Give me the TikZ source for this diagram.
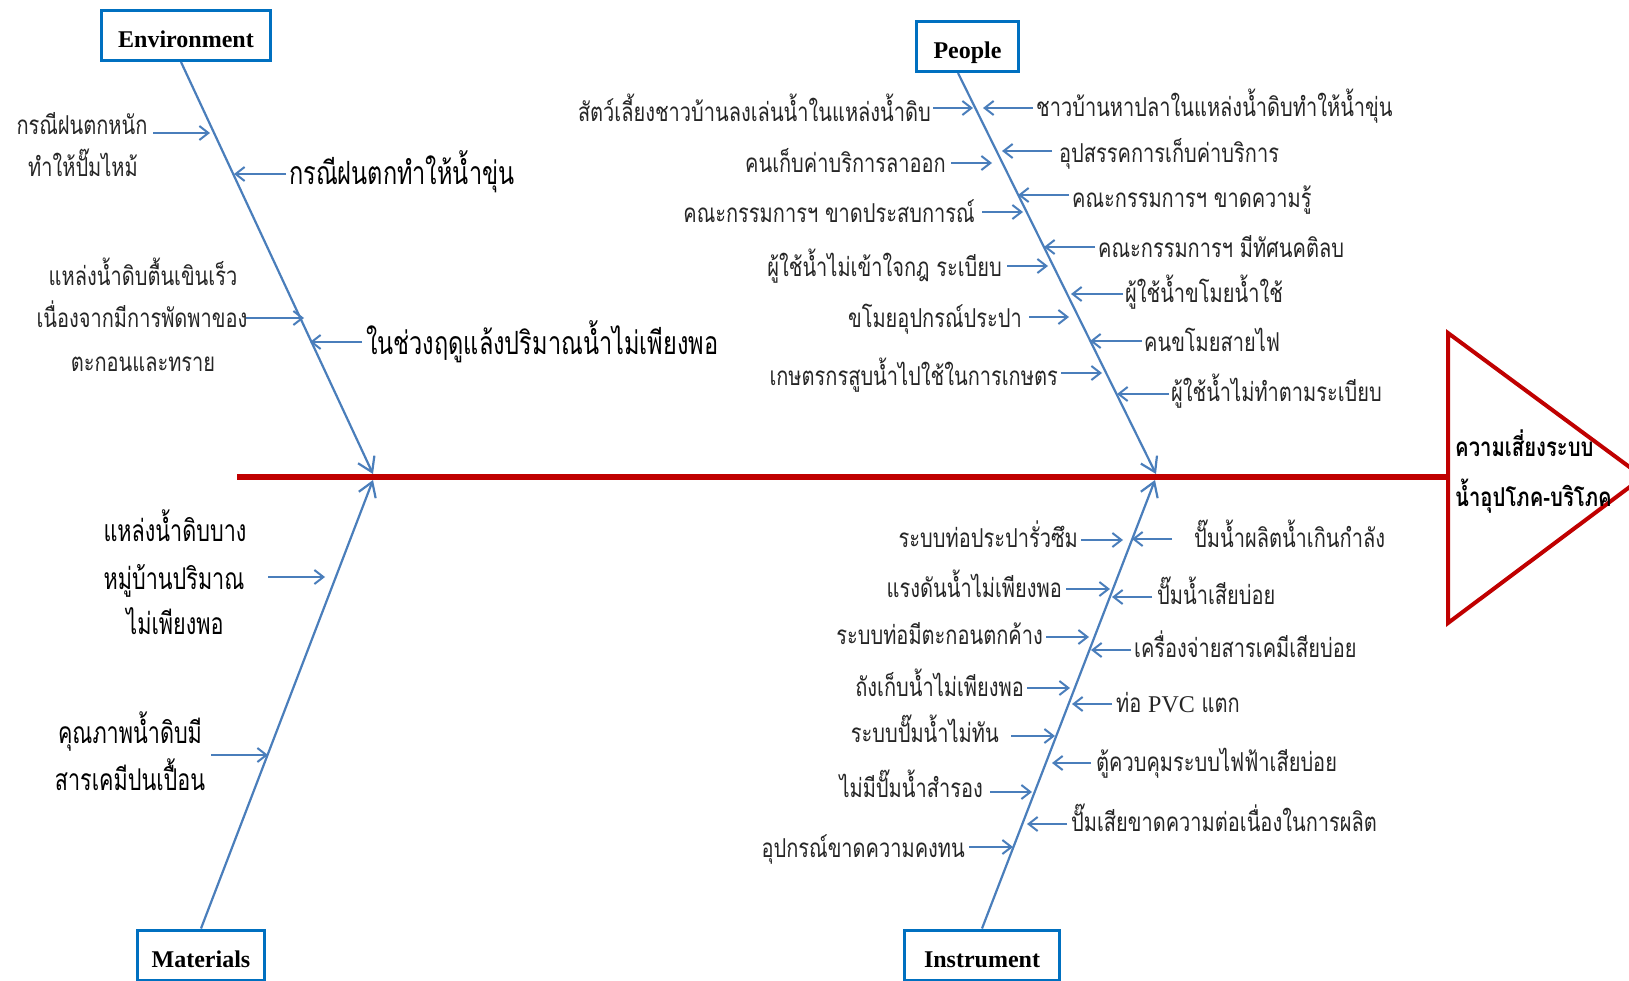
\documentclass[tikz,border=0pt]{standalone}
\usepackage{fontspec}
\setmainfont{Liberation Serif}
\newfontfamily\thai[Script=Thai,FakeStretch=0.77]{Loma}
\newfontfamily\thailg[Script=Thai,FakeStretch=0.735]{Loma}
\newfontfamily\thaimat[Script=Thai,FakeStretch=0.72]{Loma}
\newfontfamily\thaihd[Script=Thai,FakeStretch=0.78]{Loma}
\usetikzlibrary{arrows.meta}
\definecolor{boxblue}{HTML}{0070C0}
\definecolor{lineblue}{HTML}{4A7EBB}
\definecolor{spinered}{HTML}{C00000}
\definecolor{labgray}{HTML}{262626}
\tikzset{
  catbox/.style={draw=boxblue, line width=3pt, fill=white, font=\bfseries\fontsize{24}{28}\selectfont, inner sep=0pt, text height=25pt, text depth=0pt},
  bone/.style={draw=lineblue, line width=2.2pt, -{Straight Barb[length=14pt,width=18pt]}},
  sub/.style={draw=lineblue, line width=2pt, -{Straight Barb[length=9pt,width=14pt]}},
  sm/.style={font=\thai\fontsize{26}{30}\selectfont, text=labgray, inner sep=0pt, text height=19pt, text depth=0pt},
  lg/.style={font=\thailg\fontsize{32}{36}\selectfont, text=black, inner sep=0pt, text height=24pt, text depth=0pt},
  mt/.style={font=\thaimat\fontsize{30}{34}\selectfont, text=black, inner sep=0pt, text height=18pt, text depth=0pt},
  hd/.style={font=\thaihd\bfseries\fontsize{26}{30}\selectfont, text=black, inner sep=0pt, text height=13pt, text depth=0pt, anchor=west},
}
\begin{document}
\begin{tikzpicture}[x=1pt,y=-1pt]
\useasboundingbox (0,0) rectangle (1629,981);
\fill[white] (0,0) rectangle (1629,981);
\clip (0,0) rectangle (1629,981);

% main spine and head
\coordinate (spL) at (237,477);
\coordinate (triT) at (1448,333);
\coordinate (triB) at (1448,623);
\coordinate (triA) at (1643,477);
\draw[spinered, line width=5.5pt] (spL) -- (triT |- spL);
\draw[spinered, line width=4pt, line join=miter] (triT) -- (triA) -- (triB) -- cycle;
\node[hd] (head1) at (1455,450) {ความเสี่ยงระบบ};
\node[hd] (head2) at (1455,500) {น้ำอุปโภค-บริโภค};

% category boxes
\node[catbox, minimum width=169pt, minimum height=50pt] (env) at (186,35.5) {Environment};
\node[catbox, minimum width=102pt, minimum height=50pt] (ppl) at (967.5,46.5) {People};
\node[catbox, minimum width=127pt, minimum height=50pt] (mat) at (201,955) {Materials};
\node[catbox, minimum width=155pt, minimum height=50pt] (ins) at (982,955) {Instrument};

% bones
\coordinate (envtip) at (373,474);
\coordinate (mattip) at (373,480);
\coordinate (ppltip) at (1156,474);
\coordinate (instip) at (1155,480);
\draw[bone] ([xshift=-5pt]env.south) -- (envtip);
\draw[bone] (mat.north) -- (mattip);
\draw[bone] ([xshift=-9.5pt]ppl.south) -- (ppltip);
\draw[bone] (ins.north) -- (instip);

% ---- Environment causes
\node[sm] (e1a) at (82,125) {กรณีฝนตกหนัก};
\node[sm] (e1b) at (83,167) {ทำให้ปั๊มไหม้};
\coordinate (e1s) at (153,133); \coordinate (e1t) at (210,133);
\draw[sub] (e1s) -- (e1t);
\node[lg, anchor=west] (e2) at (289,173) {กรณีฝนตกทำให้น้ำขุ่น};
\coordinate (e2s) at (286,174); \coordinate (e2t) at (234,174);
\draw[sub] (e2s) -- (e2t);
\node[sm] (e3a) at (143,276) {แหล่งน้ำดิบตื้นเขินเร็ว};
\node[sm] (e3b) at (142,318) {เนื่องจากมีการพัดพาของ};
\node[sm] (e3c) at (143,362) {ตะกอนและทราย};
\coordinate (e3s) at (246,318); \coordinate (e3t) at (304,318);
\draw[sub] (e3s) -- (e3t);
\node[lg, anchor=west] (e4) at (366,342) {ในช่วงฤดูแล้งปริมาณน้ำไม่เพียงพอ};
\coordinate (e4s) at (362,342); \coordinate (e4t) at (310,342);
\draw[sub] (e4s) -- (e4t);

% ---- Materials causes
\node[mt] (m1a) at (175,532) {แหล่งน้ำดิบบาง};
\node[mt] (m1b) at (174,580) {หมู่บ้านปริมาณ};
\node[mt] (m1c) at (175,625) {ไม่เพียงพอ};
\coordinate (m1s) at (268,577); \coordinate (m1t) at (325,577);
\draw[sub] (m1s) -- (m1t);
\node[mt] (m2a) at (130,734) {คุณภาพน้ำดิบมี};
\node[mt] (m2b) at (130,781) {สารเคมีปนเปื้อน};
\coordinate (m2s) at (211,755); \coordinate (m2t) at (268,755);
\draw[sub] (m2s) -- (m2t);

% ---- People causes (left)
\node[sm, anchor=east] (p1) at (931,112) {สัตว์เลี้ยงชาวบ้านลงเล่นน้ำในแหล่งน้ำดิบ};
\coordinate (p1s) at (933,108); \coordinate (p1t) at (973,108);
\draw[sub] (p1s) -- (p1t);
\node[sm, anchor=east] (p2) at (946,163) {คนเก็บค่าบริการลาออก};
\coordinate (p2s) at (951,163); \coordinate (p2t) at (992,163);
\draw[sub] (p2s) -- (p2t);
\node[sm, anchor=east] (p3) at (975,213) {คณะกรรมการฯ ขาดประสบการณ์};
\coordinate (p3s) at (982,212); \coordinate (p3t) at (1023,212);
\draw[sub] (p3s) -- (p3t);
\node[sm, anchor=east] (p4) at (1002,267) {ผู้ใช้น้ำไม่เข้าใจกฎ ระเบียบ};
\coordinate (p4s) at (1007,266); \coordinate (p4t) at (1048,266);
\draw[sub] (p4s) -- (p4t);
\node[sm, anchor=east] (p5) at (1022,318) {ขโมยอุปกรณ์ประปา};
\coordinate (p5s) at (1029,317); \coordinate (p5t) at (1069,317);
\draw[sub] (p5s) -- (p5t);
\node[sm, anchor=east] (p6) at (1058,376) {เกษตรกรสูบน้ำไปใช้ในการเกษตร};
\coordinate (p6s) at (1061,373); \coordinate (p6t) at (1102,373);
\draw[sub] (p6s) -- (p6t);
% People causes (right)
\node[sm, anchor=west] (p7) at (1036,107) {ชาวบ้านหาปลาในแหล่งน้ำดิบทำให้น้ำขุ่น};
\coordinate (p7s) at (1033,108); \coordinate (p7t) at (983,108);
\draw[sub] (p7s) -- (p7t);
\node[sm, anchor=west] (p8) at (1059,153) {อุปสรรคการเก็บค่าบริการ};
\coordinate (p8s) at (1052,151); \coordinate (p8t) at (1002,151);
\draw[sub] (p8s) -- (p8t);
\node[sm, anchor=west] (p9) at (1072,198) {คณะกรรมการฯ ขาดความรู้};
\coordinate (p9s) at (1069,195); \coordinate (p9t) at (1018,195);
\draw[sub] (p9s) -- (p9t);
\node[sm, anchor=west] (p10) at (1098,248) {คณะกรรมการฯ มีทัศนคติลบ};
\coordinate (p10s) at (1095,247); \coordinate (p10t) at (1044,247);
\draw[sub] (p10s) -- (p10t);
\node[sm, anchor=west] (p11) at (1125,293) {ผู้ใช้น้ำขโมยน้ำใช้};
\coordinate (p11s) at (1123,294); \coordinate (p11t) at (1071,294);
\draw[sub] (p11s) -- (p11t);
\node[sm, anchor=west] (p12) at (1144,342) {คนขโมยสายไฟ};
\coordinate (p12s) at (1142,341); \coordinate (p12t) at (1090,341);
\draw[sub] (p12s) -- (p12t);
\node[sm, anchor=west] (p13) at (1171,392) {ผู้ใช้น้ำไม่ทำตามระเบียบ};
\coordinate (p13s) at (1169,394); \coordinate (p13t) at (1117,394);
\draw[sub] (p13s) -- (p13t);

% ---- Instrument causes (left)
\node[sm, anchor=east] (i1) at (1078,538) {ระบบท่อประปารั่วซึม};
\coordinate (i1s) at (1081,540); \coordinate (i1t) at (1123,540);
\draw[sub] (i1s) -- (i1t);
\node[sm, anchor=east] (i2) at (1062,588) {แรงดันน้ำไม่เพียงพอ};
\coordinate (i2s) at (1066,589); \coordinate (i2t) at (1110,589);
\draw[sub] (i2s) -- (i2t);
\node[sm, anchor=east] (i3) at (1043,635) {ระบบท่อมีตะกอนตกค้าง};
\coordinate (i3s) at (1046,637); \coordinate (i3t) at (1089,637);
\draw[sub] (i3s) -- (i3t);
\node[sm, anchor=east] (i4) at (1024,687) {ถังเก็บน้ำไม่เพียงพอ};
\coordinate (i4s) at (1027,688); \coordinate (i4t) at (1070,688);
\draw[sub] (i4s) -- (i4t);
\node[sm, anchor=east] (i5) at (999,733) {ระบบปั๊มน้ำไม่ทัน};
\coordinate (i5s) at (1011,736); \coordinate (i5t) at (1055,736);
\draw[sub] (i5s) -- (i5t);
\node[sm, anchor=east] (i6) at (983,788) {ไม่มีปั๊มน้ำสำรอง};
\coordinate (i6s) at (990,792); \coordinate (i6t) at (1032,792);
\draw[sub] (i6s) -- (i6t);
\node[sm, anchor=east] (i7) at (965,848) {อุปกรณ์ขาดความคงทน};
\coordinate (i7s) at (969,847); \coordinate (i7t) at (1013,847);
\draw[sub] (i7s) -- (i7t);
% Instrument causes (right)
\node[sm, anchor=west] (i8) at (1194,538) {ปั๊มน้ำผลิตน้ำเกินกำลัง};
\coordinate (i8s) at (1172,539); \coordinate (i8t) at (1132,539);
\draw[sub] (i8s) -- (i8t);
\node[sm, anchor=west] (i9) at (1157,595) {ปั๊มน้ำเสียบ่อย};
\coordinate (i9s) at (1152,597); \coordinate (i9t) at (1112,597);
\draw[sub] (i9s) -- (i9t);
\node[sm, anchor=west] (i10) at (1134,648) {เครื่องจ่ายสารเคมีเสียบ่อย};
\coordinate (i10s) at (1131,650); \coordinate (i10t) at (1091,650);
\draw[sub] (i10s) -- (i10t);
\node[sm, anchor=west] (i11) at (1116,703) {ท่อ {\rmfamily\fontsize{24}{28}\selectfont PVC} แตก};
\coordinate (i11s) at (1112,704); \coordinate (i11t) at (1072,704);
\draw[sub] (i11s) -- (i11t);
\node[sm, anchor=west] (i12) at (1096,762) {ตู้ควบคุมระบบไฟฟ้าเสียบ่อย};
\coordinate (i12s) at (1091,763); \coordinate (i12t) at (1052,763);
\draw[sub] (i12s) -- (i12t);
\node[sm, anchor=west] (i13) at (1071,822) {ปั๊มเสียขาดความต่อเนื่องในการผลิต};
\coordinate (i13s) at (1067,824); \coordinate (i13t) at (1027,824);
\draw[sub] (i13s) -- (i13t);
\end{tikzpicture}
\end{document}
